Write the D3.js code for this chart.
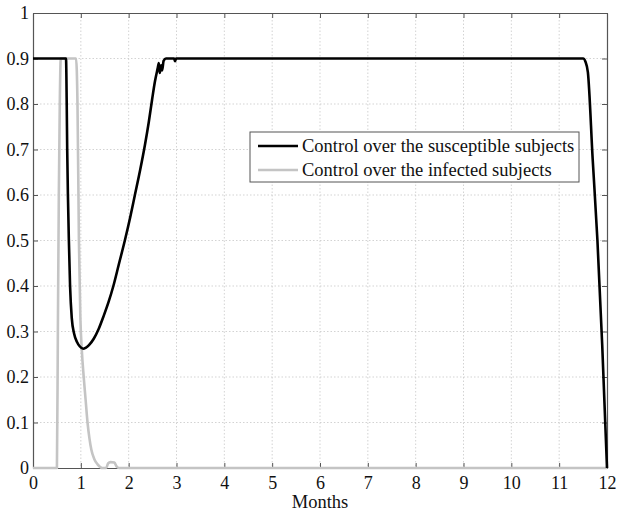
<!DOCTYPE html>
<html>
<head>
<meta charset="utf-8">
<script src="https://cdn.jsdelivr.net/npm/d3@7"></script>
<style>
  body { margin: 0; background: #fff; }
  svg { display: block; }
  svg text { font-family: 'Liberation Serif', 'Times New Roman', Times, 'DejaVu Serif', serif; }
</style>
</head>
<body>
<div id="chart"></div>
<script>
// months on x, control level on y
let xTicks = d3.range(0, 13, 1);
let yTicks = d3.range(0, 11, 1).map(d => d / 10);

let seriesNames = ["Control over the susceptible subjects", "Control over the infected subjects"];

// control over the susceptible subjects
let susceptible = [
    [0, 0.9], [0.69, 0.9], [0.705, 0.8], [0.715, 0.7], [0.73, 0.6], [0.75, 0.5], [0.775, 0.4],
    [0.81, 0.33], [0.86, 0.295], [0.92, 0.277], [0.98, 0.267], [1.05, 0.262], [1.1, 0.264],
    [1.17, 0.27], [1.27, 0.284], [1.37, 0.305], [1.48, 0.335], [1.58, 0.365], [1.68, 0.4],
    [1.8, 0.45], [1.92, 0.5], [2.03, 0.55], [2.13, 0.6], [2.24, 0.655], [2.34, 0.71],
    [2.42, 0.76], [2.49, 0.81], [2.55, 0.85], [2.61, 0.88], [2.63, 0.89], [2.65, 0.868],
    [2.68, 0.885], [2.7, 0.874], [2.73, 0.895], [2.78, 0.9], [2.95, 0.9], [2.97, 0.894],
    [2.99, 0.9], [11.5, 0.9], [11.55, 0.893], [11.6, 0.87], [11.7, 0.68], [11.8, 0.5],
    [11.9, 0.27], [12, 0]
];

// control over the infected subjects
let infected = [
    [0, 0], [0.5, 0], [0.52, 0.3], [0.54, 0.6], [0.56, 0.8], [0.58, 0.9], [0.9, 0.9],
    [0.93, 0.8], [0.96, 0.5], [0.99, 0.33], [1.02, 0.26], [1.06, 0.2], [1.1, 0.15],
    [1.14, 0.1], [1.18, 0.065], [1.22, 0.04], [1.28, 0.02], [1.35, 0.008], [1.45, 0],
    [1.53, 0], [1.57, 0.01], [1.62, 0.013], [1.7, 0.012], [1.75, 0.003], [1.8, 0], [12, 0]
];

let W = 624, H = 514;
let margin = {top: 13, right: 17, bottom: 46, left: 33};
let width = W - margin.left - margin.right;
let height = H - margin.top - margin.bottom;

let svg = d3.select("#chart").append("svg")
    .attr("width", W)
    .attr("height", H);

let g = svg.append("g")
    .attr("transform", "translate(" + margin.left + "," + margin.top + ")");

let x = d3.scaleLinear().domain([0, 12]).range([0, width]);
let y = d3.scaleLinear().domain([0, 1]).range([height, 0]);

// dotted grid
g.append("g").selectAll("line.gx")
    .data(xTicks.slice(1, -1))
    .enter().append("line")
    .attr("x1", d => x(d)).attr("x2", d => x(d))
    .attr("y1", 0).attr("y2", height)
    .attr("stroke", "#c8c8c8").attr("stroke-width", 0.8)
    .attr("stroke-dasharray", "1.5,2");

g.append("g").selectAll("line.gy")
    .data(yTicks.slice(1, -1))
    .enter().append("line")
    .attr("x1", 0).attr("x2", width)
    .attr("y1", d => y(d)).attr("y2", d => y(d))
    .attr("stroke", "#c8c8c8").attr("stroke-width", 0.8)
    .attr("stroke-dasharray", "1.5,2");

// axes (ticks pointing inward, like matlab)
let axisColor = "#555";

let xAxis = g.append("g")
    .attr("transform", "translate(0," + height + ")")
    .call(d3.axisBottom(x).tickValues(xTicks).tickSizeInner(-5).tickSizeOuter(0).tickPadding(8.5));
let yAxis = g.append("g")
    .call(d3.axisLeft(y).tickValues(yTicks).tickSizeInner(-5).tickSizeOuter(0).tickPadding(4)
        .tickFormat(d => d === 0 ? "0" : d === 1 ? "1" : d3.format(".1f")(d)));
let xTop = g.append("g")
    .call(d3.axisTop(x).tickValues(xTicks).tickSizeInner(-5).tickSizeOuter(0).tickFormat(""));
let yRight = g.append("g")
    .attr("transform", "translate(" + width + ",0)")
    .call(d3.axisRight(y).tickValues(yTicks).tickSizeInner(-5).tickSizeOuter(0).tickFormat(""));

[xAxis, yAxis, xTop, yRight].forEach(a => {
    a.attr("font-family", null);
    a.select(".domain").attr("stroke", axisColor).attr("stroke-width", 1.2);
    a.selectAll(".tick line").attr("stroke", axisColor);
    a.selectAll(".tick text").attr("fill", "#111").style("font-size", "18px");
});

// lines
let line = d3.line()
    .x(d => x(d[0]))
    .y(d => y(d[1]))
    .curve(d3.curveMonotoneX);

g.append("path")
    .datum(infected)
    .attr("fill", "none")
    .attr("stroke", "#c4c4c4")
    .attr("stroke-width", 2.6)
    .attr("stroke-linejoin", "round")
    .attr("d", line);

g.append("path")
    .datum(susceptible)
    .attr("fill", "none")
    .attr("stroke", "#000")
    .attr("stroke-width", 2.6)
    .attr("stroke-linejoin", "round")
    .attr("d", line);

// x label
svg.append("text")
    .attr("x", margin.left + width / 2)
    .attr("y", 507.5)
    .attr("text-anchor", "middle")
    .attr("font-size", "18.5px")
    .attr("fill", "#111")
    .text("Months");

// legend
let legend = svg.append("g").attr("transform", "translate(250,132)");
legend.append("rect")
    .attr("width", 329).attr("height", 50)
    .attr("fill", "#fff")
    .attr("stroke", "#555").attr("stroke-width", 1);

let legendColors = ["#000", "#c4c4c4"];
seriesNames.forEach((name, i) => {
    let row = legend.append("g").attr("transform", "translate(0," + (14 + i * 24) + ")");
    row.append("line")
        .attr("x1", 8).attr("x2", 48)
        .attr("stroke", legendColors[i]).attr("stroke-width", 2.6);
    row.append("text")
        .attr("x", 52).attr("dy", "0.33em")
        .attr("font-size", "18.5px")
        .attr("fill", "#111")
        .text(name);
});
</script>
</body>
</html>
